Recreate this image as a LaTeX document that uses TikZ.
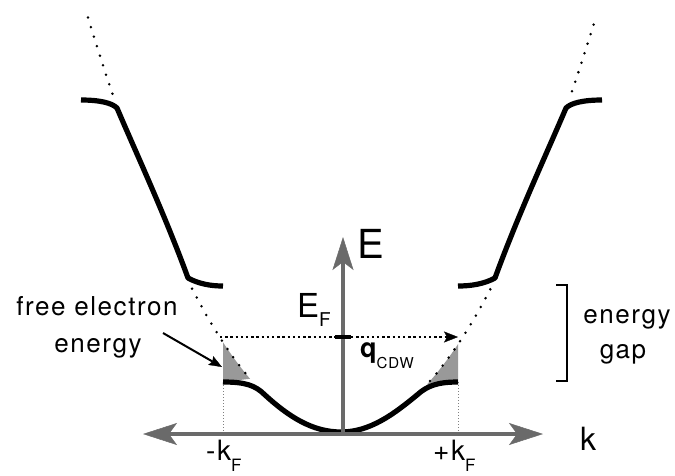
\documentclass[tikz,border=0pt]{standalone}
\usepackage{fontspec}
\setmainfont{TeX Gyre Heros}
\newfontfamily\lbl[LetterSpace=6]{TeX Gyre Heros}
\usetikzlibrary{arrows.meta}
\definecolor{axg}{HTML}{6A6A6A}
\definecolor{trig}{HTML}{999999}
\begin{document}
\begin{tikzpicture}[x=1pt,y=-1pt,
  band/.style={line width=5.2pt, line join=round},
  axisline/.style={draw=axg, line width=4pt},
  pdots/.style={line width=2.8pt, line cap=round, dash pattern=on 0pt off 10pt},
  hdots/.style={line width=2.6pt, dash pattern=on 2.4pt off 2.8pt},
  vdots/.style={draw=gray, line width=1pt, dash pattern=on 1pt off 2pt},
  tri/.style={fill=trig},
  txt/.style={font=\lbl\fontsize{26}{26}\selectfont, inner sep=0pt, anchor=base},
  lab/.style={inner sep=0pt, anchor=base west}
]
\useasboundingbox (0,0) rectangle (675,475);

% gray triangles
\fill[tri] (223,382) -- plot[domain=223:250,samples=12] (\x,{432-(0.08062*(\x-340.5))^2}) -- cycle;
\fill[tri] (458,382) -- plot[domain=458:427,samples=12] (\x,{432-(0.07975*(\x-340.5))^2}) -- cycle;

% free-electron parabola (dotted)
\draw[pdots] plot[domain=88:113,samples=20] (\x,{432-(0.08062*(\x-340.5))^2});
\draw[pdots] plot[domain=192:250,samples=30] (\x,{432-(0.08062*(\x-340.5))^2});
\draw[pdots] plot[domain=430:492,samples=30] (\x,{432-(0.07975*(\x-340.5))^2});
\draw[pdots] plot[domain=572:594,samples=20] (\x,{432-(0.07975*(\x-340.5))^2});

% vertical dotted guides at +-kF
\coordinate (kFLt) at (223,382); \coordinate (kFLb) at (223,434);
\coordinate (kFRt) at (458,382); \coordinate (kFRb) at (458,434);
\draw[vdots] (kFLt) -- (kFLb);
\draw[vdots] (kFRt) -- (kFRb);

% upper bands
\draw[band] (81,100) .. controls (100,100) and (112,103) .. (117,108)
  .. controls (137,155) and (165,215) .. (188,278)
  .. controls (199,284) and (211,286) .. (223,286);
\draw[band] (458,286) .. controls (471,286) and (484,284) .. (495,278)
  .. controls (518,215) and (546,155) .. (566,108)
  .. controls (571,103) and (583,100) .. (602,100);

% lower band
\draw[band] (223,382) .. controls (245,382) and (255,385) .. (265,395)
  .. controls (288,416) and (312,432) .. (341,432)
  .. controls (370,432) and (394,414) .. (417,395)
  .. controls (427,386) and (437,382) .. (458,382);

% axes
\coordinate (kL) at (143,434); \coordinate (kR) at (543,434);
\coordinate (O) at (343,434); \coordinate (Etop) at (343,237);
\draw[axisline, {Stealth[length=34pt,width=22pt,inset=8pt,line width=0.5pt]}-{Stealth[length=34pt,width=22pt,inset=8pt,line width=0.5pt]}] (kL) -- (kR);
\draw[axisline, -{Stealth[length=33pt,width=21pt,inset=8pt,line width=0.5pt]}] (O) -- (Etop);

% Fermi level and q vector
\coordinate (EFa) at (220,337); \coordinate (EFl) at (335,337);
\coordinate (EFr) at (351,337); \coordinate (qtip) at (458,337);
\draw[hdots] (EFa) -- (EFl);
\draw[hdots, -{Stealth[length=14pt,width=11pt,inset=3pt,line width=0.3pt]}] (EFr) -- (qtip);
\draw[line width=4pt] (EFl) -- (EFr);

% free electron energy label and arrow
\node[txt] (fe1) at (97,315) {free electron};
\node[txt] (fe2) at (98,352) {energy};
\coordinate (feT) at (163,333); \coordinate (feH) at (222,367);
\draw[line width=2pt, -{Stealth[length=13pt,width=10pt,inset=2pt,line width=0.3pt]}] (feT) -- (feH);

% energy gap bracket
\coordinate (b1) at (556,285); \coordinate (b2) at (567,285);
\coordinate (b3) at (567,381); \coordinate (b4) at (556,381);
\draw[line width=2pt] (b1) -- (b2) -- (b3) -- (b4);
\node[txt] (eg1) at (627,323) {energy};
\node[txt] (eg2) at (623,358) {gap};

% axis labels
\node[lab, font=\lbl\fontsize{40}{40}\selectfont] (Elab) at (357,258) {E};
\node[lab, font=\lbl\fontsize{32}{32}\selectfont] (klab) at (580,450) {k};
\node[lab, font=\lbl\fontsize{33}{33}\selectfont] (EF) at (297,317) {E\raisebox{-9pt}{\fontsize{19}{19}\selectfont F}};
\node[lab, font=\lbl\fontsize{27}{27}\selectfont] (q) at (360,357) {\bfseries q\raisebox{-11pt}{\mdseries\fontsize{15}{15}\selectfont CDW}};
\node[lab, font=\lbl\fontsize{28}{28}\selectfont] (mkF) at (206,460) {-k\raisebox{-11pt}{\fontsize{17}{17}\selectfont F}};
\node[lab, font=\lbl\fontsize{28}{28}\selectfont] (pkF) at (433,460) {+k\raisebox{-11pt}{\fontsize{17}{17}\selectfont F}};
\end{tikzpicture}
\end{document}
